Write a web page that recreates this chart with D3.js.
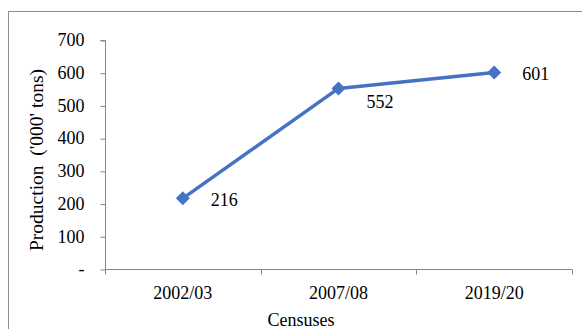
<!DOCTYPE html>
<html><head><meta charset="utf-8">
<script src="https://cdn.jsdelivr.net/npm/d3@7"></script>
<style>
html,body{margin:0;padding:0;background:#fff;}
svg{display:block;}
svg text{font-family:"Liberation Serif","Times New Roman",serif !important;}
</style></head>
<body>
<svg id="c" width="582" height="329"></svg>
<script>
const categories = ["2002/03", "2007/08", "2019/20"];
const production = [216, 552, 601];
const yTicks = [0, 100, 200, 300, 400, 500, 600, 700];
const yTickLabels = ["-", "100", "200", "300", "400", "500", "600", "700"];
const xTitle = "Censuses";
const yTitle = "Production  ('000' tons)";

(function () {
const svg = d3.select("#c");
const axisColor = "#878787";
const fs = 18;

// outer chart border
svg.append("rect").attr("x", 8.5).attr("y", 11.5).attr("width", 620).attr("height", 340)
  .attr("fill", "none").attr("stroke", "#8e8e8e").attr("stroke-width", 1);

const pLeft = 105, pRight = 572, pTop = 40, pBottom = 269;
const x = d3.scaleBand().domain(categories).range([pLeft, pRight]);
const y = d3.scaleLinear().domain([0, 700]).range([pBottom, pTop]);

// y axis
const yAxis = svg.append("g").attr("transform", `translate(${pLeft + 0.5},0)`)
  .call(d3.axisLeft(y).tickValues(yTicks).tickSize(5).tickPadding(16)
    .tickFormat((d, i) => yTickLabels[i]));
yAxis.attr("font-family", null);
yAxis.select(".domain").attr("stroke", axisColor).attr("d", `M-5,${y(700)+0.5}H0V${y(0)+0.5}`);
yAxis.selectAll(".tick line").attr("stroke", axisColor).attr("transform", "translate(0,0.5)");
yAxis.selectAll(".tick text").attr("font-size", fs).attr("fill", "#000");

// x axis
const xAxis = svg.append("g").attr("transform", `translate(0,${pBottom + 0.5})`)
  .call(d3.axisBottom(x).tickSize(0).tickPadding(17));
xAxis.attr("font-family", null);
xAxis.select(".domain").attr("stroke", axisColor).attr("d", `M${pLeft},0H${pRight + 0.5}`);
xAxis.selectAll(".tick text").attr("font-size", fs).attr("fill", "#000");
// category boundary ticks
const bounds = categories.map(c => x(c)).concat([x(categories[categories.length - 1]) + x.bandwidth()]);
xAxis.selectAll("line.bt").data(bounds).enter().append("line").attr("class", "bt")
  .attr("x1", d => Math.round(d) + 0.5).attr("x2", d => Math.round(d) + 0.5)
  .attr("y1", 0).attr("y2", 5).attr("stroke", axisColor);

const cx = d => x(d) + x.bandwidth() / 2;

// line
svg.append("path").datum(production)
  .attr("fill", "none").attr("stroke", "#4472C4").attr("stroke-width", 3.5)
  .attr("stroke-linejoin", "round")
  .attr("d", d3.line().x((d, i) => cx(categories[i])).y(d => y(d)));

// markers
svg.selectAll("path.mk").data(production).enter().append("path").attr("class", "mk")
  .attr("d", d3.symbol().type(d3.symbolDiamond2).size(125))
  .attr("transform", (d, i) => `translate(${cx(categories[i])},${y(d)})`)
  .attr("fill", "#4472C4");

// data labels
svg.selectAll("text.lbl").data(production).enter().append("text").attr("class", "lbl")
  .attr("x", (d, i) => cx(categories[i]) + 28)
  .attr("y", (d, i) => y(d) + (i === 1 ? 13 : 1))
  .attr("dy", "0.35em")
  .attr("font-size", fs).attr("fill", "#000")
  .text(d => d);

// axis titles
svg.append("text").attr("x", 301).attr("y", 326).attr("text-anchor", "middle")
  .attr("font-size", fs).attr("fill", "#000").text(xTitle);
svg.append("text").attr("transform", "translate(43,160) rotate(-90)")
  .attr("text-anchor", "middle").attr("font-size", 19.5).attr("fill", "#000")
  .style("white-space", "pre").text(yTitle);
})();
</script>
</body></html>
